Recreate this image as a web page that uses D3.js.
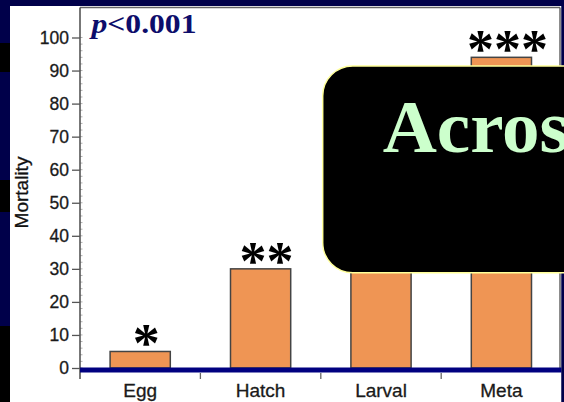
<!DOCTYPE html>
<html>
<head>
<meta charset="utf-8">
<script src="https://cdn.jsdelivr.net/npm/d3@7"></script>
<style>
  html, body { margin: 0; padding: 0; background: #00004a; }
  svg { display: block; }
</style>
</head>
<body>
<svg id="chart" width="564" height="402"></svg>
<script>
// ---- data ----
const stages = ["Egg", "Hatch", "Larval", "Meta"];
const mortality = [5, 30, 60, 94];
const sigLabels = ["*", "**", "", "***"];
const yTicks = [0, 10, 20, 30, 40, 50, 60, 70, 80, 90, 100];
const pLabel = ["p", "<0.001"];
const yTitle = "Mortality";
const overlayText = "Across";

const svg = d3.select("#chart");
const W = 564, H = 402;

// slide background
svg.append("rect").attr("width", W).attr("height", H).attr("fill", "#00004a");
// dark patches on left strip
[[43, 72], [180, 212], [326, 402]].forEach(([a, b]) => {
  svg.append("rect").attr("x", 0).attr("y", a).attr("width", 10).attr("height", b - a).attr("fill", "#000000");
});
// white panel
svg.append("rect").attr("x", 10).attr("y", 6).attr("width", 551.5).attr("height", H - 6).attr("fill", "#ffffff");

const plotLeft = 80, plotRight = 561.6, plotTop = 37.5, zeroY = 368;
const x = d3.scaleBand().domain(stages).range([plotLeft, plotRight]).paddingInner(0.5).paddingOuter(0.25);
const y = d3.scaleLinear().domain([0, 100]).range([zeroY, plotTop]);

// frame top & right
svg.append("line").attr("x1", plotLeft).attr("x2", 560).attr("y1", 7.5).attr("y2", 7.5)
  .attr("stroke", "#666").attr("stroke-width", 1.5);
svg.append("line").attr("x1", 560).attr("x2", 560).attr("y1", 7.5).attr("y2", zeroY)
  .attr("stroke", "#666").attr("stroke-width", 1.5);

// minor ticks
const minor = d3.range(0, 101, 2);
svg.append("g").selectAll("line").data(minor).join("line")
  .attr("x1", plotLeft).attr("x2", plotLeft + 2.5)
  .attr("y1", d => y(d)).attr("y2", d => y(d))
  .attr("stroke", "#999").attr("stroke-width", 0.8);

// y axis
const yAxis = d3.axisLeft(y).tickValues(yTicks).tickSize(8).tickPadding(3).tickFormat(d3.format("d"));
const gy = svg.append("g").attr("transform", `translate(${plotLeft},0)`).call(yAxis);
gy.select(".domain").remove();
gy.selectAll(".tick line").attr("stroke", "#555").attr("stroke-width", 1.3);
gy.selectAll(".tick text").attr("fill", "#1a1a1a")
  .attr("stroke", "#1a1a1a").attr("stroke-width", 0.3)
  .style("font-family", "'Liberation Sans', Arial, sans-serif").style("font-size", "17.5px");
svg.append("line").attr("x1", plotLeft).attr("x2", plotLeft).attr("y1", 7.5).attr("y2", 379)
  .attr("stroke", "#555").attr("stroke-width", 1.6);

// bars
svg.append("g").selectAll("rect").data(stages).join("rect")
  .attr("x", d => x(d)).attr("width", x.bandwidth())
  .attr("y", (d, i) => y(mortality[i]))
  .attr("height", (d, i) => zeroY - y(mortality[i]))
  .attr("fill", "#ef9554").attr("stroke", "#444").attr("stroke-width", 1.5);

// x axis (navy bar)
svg.append("line").attr("x1", plotLeft).attr("x2", 561.5).attr("y1", 370).attr("y2", 370)
  .attr("stroke", "#000080").attr("stroke-width", 5);
// ticks between categories
const bounds = stages.slice(0, -1).map(d => x(d) + x.bandwidth() + (x.step() - x.bandwidth()) / 2);
svg.append("g").selectAll("line").data(bounds).join("line")
  .attr("x1", d => d).attr("x2", d => d).attr("y1", 373).attr("y2", 379)
  .attr("stroke", "#666").attr("stroke-width", 1.3);
// x labels
svg.append("g").selectAll("text").data(stages).join("text")
  .attr("x", d => x(d) + x.bandwidth() / 2).attr("y", 396.6)
  .attr("text-anchor", "middle").attr("fill", "#1a1a1a")
  .attr("stroke", "#1a1a1a").attr("stroke-width", 0.3)
  .style("font-family", "'Liberation Sans', Arial, sans-serif").style("font-size", "19px")
  .text(d => d);

// significance asterisks
svg.append("g").selectAll("text").data(stages.filter((d, i) => sigLabels[i])).join("text")
  .attr("x", d => x(d) + x.bandwidth() / 2 + 6)
  .attr("y", d => y(mortality[stages.indexOf(d)]) + 10)
  .attr("text-anchor", "middle").attr("fill", "#000")
  .style("font-family", "'Liberation Serif', 'Times New Roman', serif").style("font-size", "54px")
  .style("font-weight", "bold")
  .text(d => sigLabels[stages.indexOf(d)]);

// p value
const pt = svg.append("text").attr("x", 91.5).attr("y", 33.3).attr("fill", "#0d0d6b")
  .attr("textLength", 105).attr("lengthAdjust", "spacingAndGlyphs")
  .style("font-family", "'Liberation Serif', 'Times New Roman', serif").style("font-size", "28px")
  .style("font-weight", "bold");
pt.append("tspan").style("font-style", "italic").text(pLabel[0]);
pt.append("tspan").text(pLabel[1]);

// y title
svg.append("text").attr("transform", "translate(27.5,192.5) rotate(-90)")
  .attr("text-anchor", "middle").attr("fill", "#111")
  .attr("stroke", "#111").attr("stroke-width", 0.3)
  .style("font-family", "'Liberation Sans', Arial, sans-serif").style("font-size", "19px")
  .text(yTitle);

// right navy strip
svg.append("rect").attr("x", 561.5).attr("y", 0).attr("width", 3).attr("height", H).attr("fill", "#00004a");

// overlay box
svg.append("rect").attr("x", 322.7).attr("y", 66).attr("width", 400).attr("height", 206.7)
  .attr("rx", 30).attr("ry", 30)
  .attr("fill", "#000").attr("stroke", "#ffff99").attr("stroke-width", 1.5);
svg.append("text").attr("x", 382.7).attr("y", 151.7).attr("fill", "#ccffcc")
  .style("font-family", "'Liberation Serif', 'Times New Roman', serif").style("font-size", "75px")
  .style("font-weight", "bold")
  .text(overlayText);
</script>
</body>
</html>
